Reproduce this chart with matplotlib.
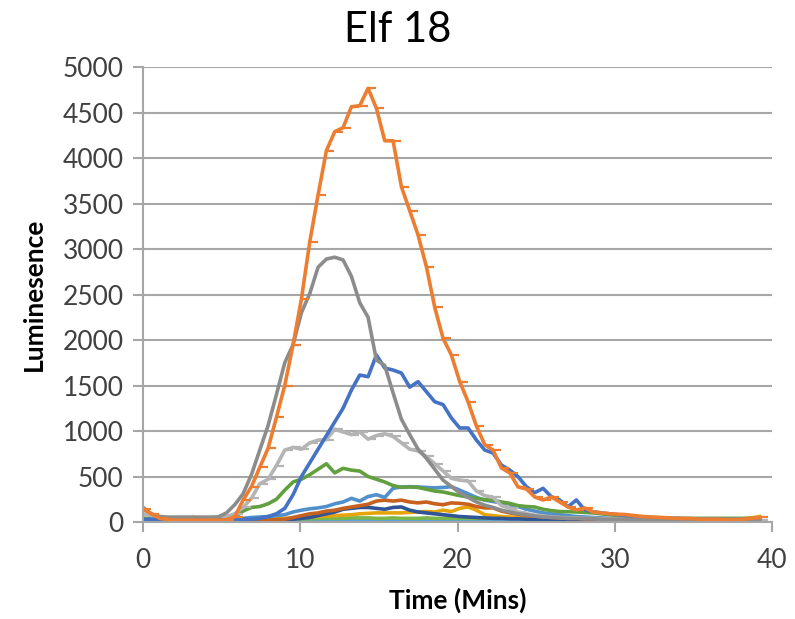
import numpy as np
import matplotlib
matplotlib.use("Agg")
import matplotlib.pyplot as plt

plt.rcParams['font.family'] = ['Lato', 'DejaVu Sans']

# sample every ~32 s, 75 reads
minutes = np.arange(75) * 0.53

orange = [140, 90, 40, 25, 20, 20, 20, 20, 20, 20,
          25, 58, 240, 388, 600, 810, 1150, 1500, 1950, 2450,
          3077, 3594, 4081, 4290, 4333, 4564, 4575, 4766, 4547, 4190,
          4190, 3685, 3421, 3154, 2806, 2360, 2019, 1835, 1542, 1322,
          1055, 850, 790, 594, 540, 385, 363, 275, 242, 275,
          220, 165, 132, 154, 110, 99, 90, 85, 80, 70,
          60, 55, 50, 45, 40, 40, 35, 30, 30, 30,
          25, 25, 30, 40, 50]
dark_gray = [160, 90, 60, 50, 50, 50, 50, 50, 50, 55,
             100, 190, 310, 520, 790, 1060, 1400, 1750, 1950, 2300,
             2510, 2800, 2890, 2910, 2880, 2700, 2410, 2250, 1780, 1720,
             1420, 1130, 960, 800, 700, 580, 460, 390, 320, 270,
             220, 185, 160, 130, 110, 90, 80, 65, 55, 50,
             45, 40, 40, 35, 35, 30, 30, 30, 30, 30,
             30, 30, 30, 30, 30, 30, 30, 30, 30, 30,
             30, 30, 30, 30, 30]
light_gray = [90, 70, 60, 55, 55, 55, 55, 55, 55, 55,
              60, 90, 160, 260, 420, 470, 620, 790, 820, 800,
              870, 900, 905, 1020, 990, 960, 990, 910, 950, 970,
              940, 870, 800, 780, 720, 640, 560, 480, 460, 450,
              340, 290, 270, 180, 150, 110, 90, 75, 65, 55,
              50, 45, 45, 40, 40, 35, 35, 35, 30, 30,
              30, 30, 30, 25, 25, 25, 25, 25, 25, 25,
              25, 25, 25, 25, 25]
blue = [30, 30, 25, 25, 25, 25, 25, 25, 25, 25,
        25, 25, 30, 30, 40, 60, 90, 150, 300, 500,
        650, 800, 950, 1100, 1250, 1450, 1615, 1597, 1835, 1692,
        1670, 1637, 1482, 1542, 1432, 1322, 1290, 1143, 1033, 1033,
        901, 791, 758, 626, 571, 498, 388, 322, 370, 278,
        242, 168, 242, 132, 113, 100, 90, 80, 70, 60,
        55, 50, 45, 40, 40, 35, 35, 30, 30, 30,
        25, 25, 30, 25, 25]
green = [40, 40, 40, 40, 40, 40, 40, 40, 40, 40,
         40, 55, 120, 160, 170, 200, 250, 350, 440, 470,
         520, 580, 640, 540, 590, 570, 560, 500, 470, 440,
         400, 380, 385, 380, 360, 340, 330, 310, 290, 275,
         260, 245, 240, 220, 205, 180, 170, 165, 140, 125,
         115, 113, 110, 105, 100, 90, 80, 70, 60, 55,
         50, 45, 45, 40, 40, 40, 40, 40, 40, 40,
         40, 40, 40, 40, 40]
steel_blue = [30, 30, 30, 30, 30, 30, 30, 30, 30, 30,
              30, 30, 40, 50, 55, 60, 70, 80, 110, 130,
              145, 155, 170, 200, 220, 260, 230, 280, 300, 270,
              370, 385, 388, 385, 380, 375, 380, 388, 350, 310,
              270, 240, 225, 210, 190, 170, 140, 120, 100, 90,
              80, 70, 60, 55, 50, 45, 40, 40, 35, 35,
              30, 30, 30, 30, 30, 30, 30, 30, 30, 30,
              30, 30, 30, 30, 30]
brown = [20, 20, 20, 20, 20, 20, 20, 20, 20, 20,
         20, 20, 20, 20, 20, 20, 25, 30, 50, 70,
         90, 100, 120, 130, 150, 165, 180, 195, 230, 240,
         230, 240, 220, 210, 220, 200, 190, 210, 205, 195,
         170, 155, 155, 120, 100, 85, 75, 65, 55, 50,
         45, 40, 40, 35, 35, 30, 30, 30, 30, 30,
         30, 30, 30, 30, 30, 30, 30, 30, 30, 30,
         30, 30, 30, 30, 30]
dark_blue = [20, 20, 20, 20, 20, 20, 20, 20, 20, 20,
             20, 20, 20, 20, 20, 20, 20, 25, 30, 40,
             50, 70, 90, 110, 140, 150, 160, 160, 150, 140,
             160, 165, 130, 110, 100, 90, 80, 70, 60, 55,
             50, 45, 40, 40, 35, 35, 30, 30, 30, 30,
             30, 30, 30, 30, 30, 30, 30, 30, 30, 30,
             30, 30, 30, 30, 30, 30, 30, 30, 30, 30,
             30, 30, 30, 30, 30]
gold = [40, 30, 20, 20, 30, 20, 60, 30, 20, 20,
        20, 20, 20, 25, 30, 35, 35, 40, 45, 50,
        55, 60, 65, 70, 75, 80, 90, 95, 100, 100,
        100, 100, 105, 110, 115, 110, 130, 115, 150, 165,
        130, 80, 70, 60, 55, 50, 45, 45, 40, 40,
        35, 35, 30, 30, 30, 30, 30, 30, 30, 30,
        30, 30, 30, 30, 30, 30, 30, 30, 30, 30,
        30, 30, 35, 45, 60]
light_green = [35, 35, 30, 30, 30, 30, 30, 30, 30, 30,
               30, 30, 30, 30, 30, 30, 30, 30, 35, 35,
               35, 40, 40, 40, 40, 45, 45, 45, 40, 40,
               45, 40, 40, 40, 45, 40, 40, 40, 40, 40,
               40, 40, 40, 40, 40, 40, 40, 40, 40, 40,
               40, 40, 35, 35, 35, 35, 35, 35, 35, 35,
               35, 35, 35, 35, 35, 35, 35, 35, 35, 35,
               35, 35, 35, 35, 35]
light_blue = [15, 15, 15, 15, 15, 15, 15, 15, 15, 15,
              15, 15, 15, 15, 15, 15, 15, 15, 15, 15,
              15, 15, 15, 20, 20, 20, 20, 20, 20, 25,
              20, 20, 20, 20, 20, 20, 20, 20, 20, 20,
              20, 20, 20, 20, 20, 20, 20, 20, 20, 20,
              20, 20, 20, 20, 20, 20, 20, 20, 20, 20,
              20, 20, 20, 20, 20, 20, 20, 20, 20, 20,
              20, 20, 20, 20, 20]

# half-dash marker, mimics the excel error-bar caps
cap = [(0, 0), (1, 0)]

fig = plt.figure(figsize=(7.95, 6.19), dpi=100)
ax = fig.add_axes([0.18, 0.1567, 0.791, 0.735])

lw = 2.6
ax.plot(minutes, light_blue, color='#5BA3DB', lw=lw)
ax.plot(minutes, light_green, color='#7AB648', lw=lw)
ax.plot(minutes, gold, color='#E5A50A', lw=lw)
ax.plot(minutes, dark_blue, color='#2F5597', lw=lw)
ax.plot(minutes, brown, color='#C8601E', lw=lw)
ax.plot(minutes, steel_blue, color='#5290CC', lw=lw)
ax.plot(minutes, green, color='#62A03F', lw=lw)
ax.plot(minutes, light_gray, color='#B4B4B4', lw=lw,
        marker=cap, ms=11, mew=1.6, mec='#B4B4B4')
ax.plot(minutes, blue, color='#4472C4', lw=lw)
ax.plot(minutes, dark_gray, color='#8C8C8C', lw=lw)
ax.plot(minutes, orange, color='#ED7D31', lw=lw,
        marker=cap, ms=11, mew=1.6, mec='#ED7D31')

ax.set_xlim(0, 40)
ax.set_ylim(0, 5000)
ax.set_xticks([0, 10, 20, 30, 40])
ax.set_yticks(np.arange(0, 5001, 500))
ax.yaxis.grid(True, color='#A6A6A6', lw=1.5)
ax.set_axisbelow(True)
for s in ['top', 'right']:
    ax.spines[s].set_visible(False)
for s in ['left', 'bottom']:
    ax.spines[s].set_color('#A6A6A6')
    ax.spines[s].set_linewidth(1.5)
ax.tick_params(axis='both', colors='#A6A6A6', width=1.5, length=7,
               labelsize=19, labelcolor='#404040')
ax.tick_params(axis='y', pad=7)
ax.tick_params(axis='x', pad=12)

ax.set_xlabel('Time (Mins)', fontsize=19, fontweight='bold', labelpad=10)
ax.set_ylabel('Luminesence', fontsize=19, fontweight='bold', labelpad=12)
fig.text(0.5, 0.952, 'Elf 18', ha='center', va='center', fontsize=30)

fig.savefig('out.png', dpi=100)
